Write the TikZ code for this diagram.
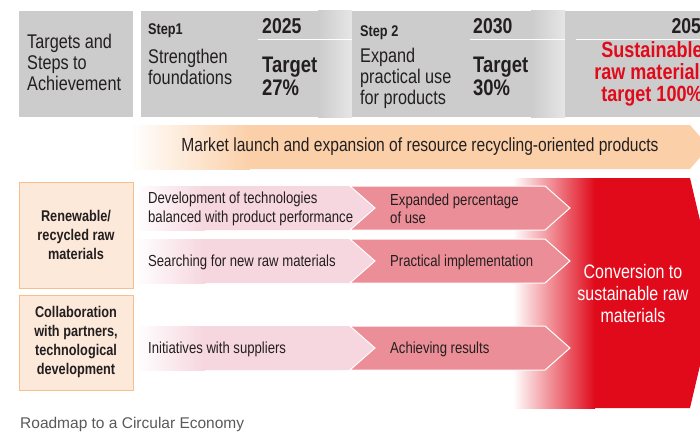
\documentclass[tikz,border=0pt]{standalone}
\usepackage{fontspec}
\setmainfont{Liberation Sans}[FakeStretch=0.82]
\newfontfamily\captionfont{Liberation Sans}
\definecolor{hdrgray}{HTML}{CCCCCC}
\definecolor{hdrlight}{HTML}{E6E6E6}
\definecolor{bandorange}{HTML}{FBD0A9}
\definecolor{boxfill}{HTML}{FDE9D9}
\definecolor{boxline}{HTML}{F8BE8C}
\definecolor{lightpink}{HTML}{F6D6DF}
\definecolor{darkpink}{HTML}{EC8E97}
\definecolor{convred}{HTML}{E00A1B}
\definecolor{inkdark}{HTML}{231F20}
\definecolor{capgray}{HTML}{58595B}
\tikzset{
  lefttext/.style={anchor=west, align=left, inner sep=0pt, text=inkdark},
  hdrlabel/.style={lefttext, font=\fontsize{19.8}{21}\selectfont},
  steplabel/.style={lefttext, font=\bfseries\fontsize{15.5}{18}\selectfont},
  yearlabel/.style={lefttext, font=\bfseries\fontsize{21.5}{24}\selectfont},
  targetlabel/.style={lefttext, font=\bfseries\fontsize{22.5}{23}\selectfont},
  rowlabel/.style={lefttext, font=\fontsize{16}{18.5}\selectfont},
  themebox/.style={draw=boxline, fill=boxfill, line width=1pt},
  themelabel/.style={align=center, inner sep=0pt, text=inkdark, font=\bfseries\fontsize{15.5}{19}\selectfont},
  chevron/.style={fill=darkpink, draw=white, line width=1pt},
}
\begin{document}
\begin{tikzpicture}[x=1pt, y=-1pt]
  \useasboundingbox (0,0) rectangle (700,433);
  \clip (0,0) rectangle (700,433);
  % header
  \fill[hdrgray] (19,11) rectangle (133,117);
  \fill[hdrgray] (141,11) rectangle (352,117);
  \shade[left color=hdrgray, right color=hdrlight] (318,11) rectangle (352,117);
  \fill[hdrgray] (352,11) rectangle (565,117);
  \shade[left color=hdrgray, right color=hdrlight] (531,11) rectangle (565,117);
  \fill[hdrgray] (565,11) rectangle (700,117);
  \draw[white, line width=1pt] (258,40) -- (352,40);
  \draw[white, line width=1pt] (470,40) -- (565,40);
  \draw[white, line width=1pt] (576,40) -- (700,40);
  \node[hdrlabel] (targets) at (27,62) {Targets and\\Steps to\\Achievement};
  \node[steplabel] (step1) at (148,31) {Step1};
  \node[hdrlabel] (step1txt) at (148,67) {Strengthen\\foundations};
  \node[yearlabel] (y2025) at (262,26) {2025};
  \node[targetlabel] (t2025) at (262,76) {Target\\27\%};
  \node[steplabel] (step2) at (360,33) {Step 2};
  \node[hdrlabel] (step2txt) at (360,78) {Expand\\practical use\\for products};
  \node[yearlabel] (y2030) at (473,26) {2030};
  \node[targetlabel] (t2030) at (473,76) {Target\\30\%};
  \node[yearlabel, anchor=east] (y2050) at (711,26) {2050};
  \node[targetlabel, anchor=center, align=center, text=convred, font=\bfseries\fontsize{22}{22}\selectfont] (t2050) at (652,74)
    {Sustainable\\raw materials\\target 100\%};
  % market band
  \fill[bandorange] (130,125) -- (690,125) -- (709,147) -- (690,169) -- (130,169) -- cycle;
  \shade[left color=white, right color=bandorange] (130,125) rectangle (250,169);
  \node[rowlabel, anchor=center, font=\fontsize{19}{20}\selectfont] (market) at (420,147)
    {Market launch and expansion of resource recycling-oriented products};
  % conversion block
  \fill[convred] (515,178) -- (690,178) -- (717,293) -- (690,408) -- (515,408) -- cycle;
  \shade[left color=white, right color=convred] (513,178) rectangle (595,408);
  \node[align=center, inner sep=0pt, text=white, font=\fontsize{19.5}{22}\selectfont] (convert) at (633,294)
    {Conversion to\\sustainable raw\\materials};
  % theme boxes
  \draw[themebox] (19,182) rectangle (133,288);
  \node[themelabel] (renew) at (76,235) {Renewable/\\recycled raw\\materials};
  \draw[themebox] (19,295) rectangle (133,390);
  \node[themelabel] (collab) at (76,342) {Collaboration\\with partners,\\technological\\development};
  % rows
  \foreach \top/\bot in {186/230, 239/283, 326/370} {
    \fill[lightpink] (135,\top) -- (350,\top) -- (375,{(\top+\bot)/2}) -- (350,\bot) -- (135,\bot) -- cycle;
    \shade[left color=white, right color=lightpink] (135,\top) rectangle (205,\bot);
    \draw[chevron] (350,\top) -- (545,\top) -- (570,{(\top+\bot)/2}) -- (545,\bot) -- (350,\bot)
      -- (375,{(\top+\bot)/2}) -- cycle;
  }
  \node[rowlabel] (devtech) at (148,209) {Development of technologies\\balanced with product performance};
  \node[rowlabel] (expand) at (390,209) {Expanded percentage\\of use};
  \node[rowlabel] (search) at (148,262) {Searching for new raw materials};
  \node[rowlabel] (practical) at (390,262) {Practical implementation};
  \node[rowlabel] (suppliers) at (148,349) {Initiatives with suppliers};
  \node[rowlabel] (results) at (390,349) {Achieving results};
  % caption
  \node[anchor=west, inner sep=0pt, text=capgray, font=\captionfont\fontsize{15.5}{18}\selectfont] (caption) at (20,424)
    {Roadmap to a Circular Economy};
\end{tikzpicture}
\end{document}
